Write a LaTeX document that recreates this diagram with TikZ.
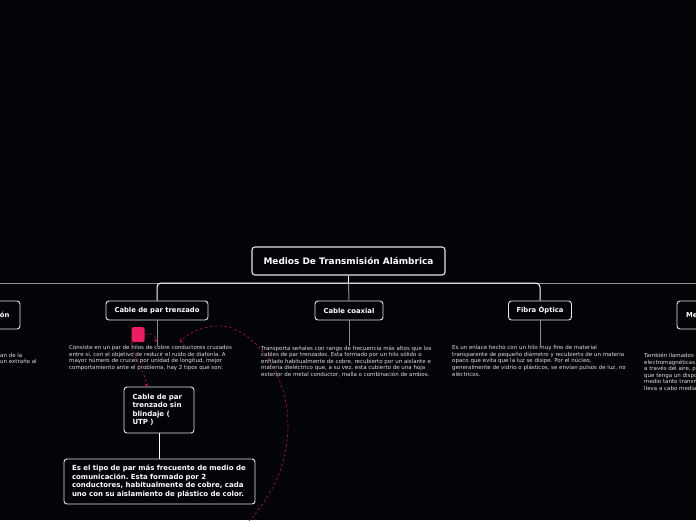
\documentclass[tikz,border=0pt]{standalone}
\usepackage{fontspec}
\setmainfont{DejaVu Sans}
\usetikzlibrary{arrows.meta, positioning}
\definecolor{mapbg}{HTML}{030408}
\definecolor{linkpink}{HTML}{B0164F}
\definecolor{markpink}{HTML}{E91E63}
\frenchspacing
\tikzset{
    base/.style={draw=white!90!black, fill=mapbg, rectangle, rounded corners=3pt, line width=0.9pt, text=white, font=\fontsize{6.8}{8}\selectfont\bfseries, inner sep=0pt},
    topic/.style={base, line width=1.1pt, minimum width=193pt, minimum height=28pt, font=\fontsize{8.95}{10}\selectfont\bfseries},
    subtopic/.style={base, minimum height=19pt},
    sidebox/.style={base, minimum height=28pt},
    textbox/.style={base, align=left, font=\fontsize{7}{8.5}\selectfont\bfseries},
    note/.style={text=white!88!black, align=left, inner sep=0pt, anchor=north west, font=\fontsize{5.5}{6.55}\selectfont},
    bright/.style={white, line width=1pt},
    dim/.style={white!55!black, line width=1pt},
    relation/.style={linkpink, dash pattern=on 2.5pt off 2.5pt, line width=0.6pt, -{Stealth[length=3pt,width=4pt]}}
}

\begin{document}
\begin{tikzpicture}[x=1pt,y=-1pt]
\useasboundingbox (0,0) rectangle (696,520);
\clip (0,0) rectangle (696,520);
\fill[mapbg] (0,0) rectangle (696,520);

\coordinate (bus) at (348.5,283);
\draw[dim] (-5,283) -- (bus);
\draw[dim] (bus) -- (701,283);

\node[topic] (title) at (348.5,261) {Medios De Transmisión Alámbrica};
\node[subtopic, minimum width=102pt] (par) at (157,310.5) {Cable de par trenzado};
\node[subtopic, minimum width=68pt] (coax) at (349,310.5) {Cable coaxial};
\node[subtopic, minimum width=63pt] (fibra) at (540,310.5) {Fibra Óptica};
\node[sidebox, minimum width=80pt, align=right, text width=59pt] (left) at (-20,315) {ón};
\node[sidebox, minimum width=80pt, align=left, text width=62pt] (right) at (717,315) {Me};

\node[note] (partext) at (69,345.5) {Consiste en un par de hilos de cobre conductores cruzados\\entre sí, con el objetivo de reducir el ruido de diafonía. A\\mayor número de cruces por unidad de longitud, mejor\\comportamiento ante el problema, hay 2 tipos que son:};
\node[note] (coaxtext) at (261,345.5) {Transporta señales con rango de frecuencia más altos que los\\cables de par trenzados. Esta formado por un hilo sólido o\\enfilado habitualmente de cobre, recubierto por un aislante e\\materia dieléctrico que, a su vez, esta cubierto de una hoja\\exterior de metal conductor, malla o combinación de ambos.};
\node[note] (fibratext) at (452,345.5) {Es un enlace hecho con un hilo muy fino de material\\transparente de pequeño diámetro y recubierto de un materia\\opaco que evita que la luz se disipe. Por el núcleo,\\generalmente de vidrio o plásticos, se envían pulsos de luz, no\\eléctricos.};
\node[note] (lefttext) at (0,353) {an de la\\un extraño al};
\node[note] (righttext) at (644,353) {También llamados\\electromagnéticas\\a través del aire, p\\que tenga un dispo\\medio tanto transm\\lleva a cabo media};

\node[textbox, minimum width=70pt, minimum height=46pt, text width=53pt] (utp) at (159,410) {Cable de par\\trenzado sin\\blindaje (\\UTP )};
\node[textbox, minimum width=191pt, minimum height=45pt, text width=175pt] (utptext) at (159.5,481.5) {Es el tipo de par más frecuente de medio de\\comunicación. Esta formado por 2\\conductores, habitualmente de cobre, cada\\uno con su aislamiento de plástico de color.};

\node[fill=markpink, rounded corners=1.5pt, minimum width=13pt, minimum height=15pt, inner sep=0pt] (mark) at (138,334.5) {};

\draw[bright, rounded corners=4pt] (par.north) |- (bus);
\draw[bright, rounded corners=4pt] (fibra.north) |- (bus);
\draw[bright] (title.south) -- (bus);
\draw[dim] (bus) -- (coax.north);
\draw[dim] (par.south) -- (par.south |- partext.north);
\draw[dim] (coax.south) -- (coax.south |- coaxtext.north);
\draw[dim] (fibra.south) -- (fibra.south |- fibratext.north);
\draw[bright] (utp.south) -- (utptext.north -| utp.south);

\draw[relation] (mark.east) .. controls (150,332) and (156,334) .. (156,342);
\draw[relation] (mark.south west) .. controls (131,355) and (144,368) .. (147,387);
\draw[relation] (245,525) .. controls (275,495) and (288,460) .. (288,425) .. controls (288,370) and (250,326) .. (220,326) .. controls (205,326) and (190,331) .. (180,342);
\end{tikzpicture}
\end{document}
